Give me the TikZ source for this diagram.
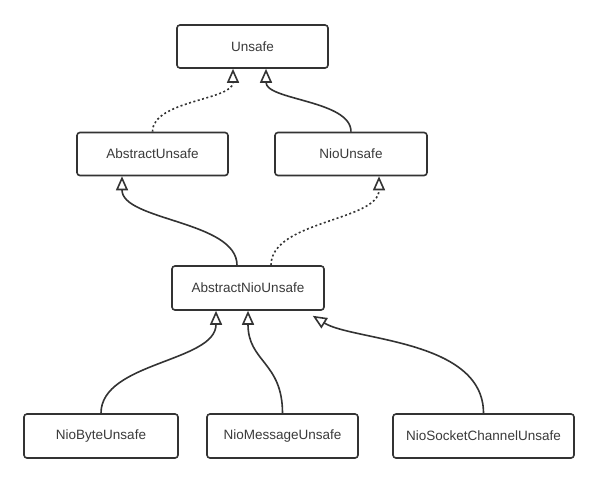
\documentclass[tikz,border=0pt]{standalone}
\usepackage{fontspec}
\setmainfont{Liberation Sans}
\usetikzlibrary{arrows.meta,calc}
\definecolor{ink}{HTML}{333333}
\definecolor{txt}{HTML}{3A3A3A}
\begin{document}
\begin{tikzpicture}[x=1pt,y=-1pt,
  box/.style={draw=ink, line width=1.6pt, rounded corners=3pt, minimum height=43pt,
    inner sep=0pt, text=txt, font=\fontsize{13.5}{16}\selectfont},
  inh/.style={draw=ink, line width=1.6pt, -{Triangle[open,length=14pt,width=12pt]}},
  realiz/.style={inh, dash pattern=on 2pt off 2.5pt}]
\useasboundingbox (0,0) rectangle (599,483);
\fill[white] (0,0) rectangle (599,483);

% boxes
\node[box, minimum width=151pt] (unsafe) at (252.5,46.5) {Unsafe};
\node[box, minimum width=151pt] (absu) at (152.5,154) {AbstractUnsafe};
\node[box, minimum width=152pt] (niou) at (351,154) {NioUnsafe};
\node[box, minimum width=152pt, minimum height=44pt] (absnio) at (248,288) {AbstractNioUnsafe};
\node[box, minimum width=154pt, minimum height=44pt] (byte) at (101,436) {NioByteUnsafe};
\node[box, minimum width=151pt, minimum height=44pt] (msg) at (282.5,436) {NioMessageUnsafe};
\node[box, minimum width=181pt, minimum height=44pt] (sock) at (483.5,436) {NioSocketChannelUnsafe};

% end points
\coordinate (t1) at ([xshift=-19.5pt]unsafe.south);
\coordinate (t2) at ([xshift=13.5pt]unsafe.south);
\coordinate (t3) at ([xshift=-30.5pt]absu.south);
\coordinate (t4) at ([xshift=28pt]niou.south);
\coordinate (t5) at ([xshift=-32pt]absnio.south);
\coordinate (t6) at (absnio.south);
\coordinate (t7) at ([xshift=-12pt,yshift=-5pt]absnio.south east);
\coordinate (s1) at (absu.north);
\coordinate (s2) at (niou.north);
\coordinate (s3) at ([xshift=-11pt]absnio.north);
\coordinate (s4) at ([xshift=23pt]absnio.north);
\coordinate (s5) at (byte.north);
\coordinate (s6) at (msg.north);
\coordinate (s7) at (sock.north);

\foreach \i in {1,...,6}{\coordinate (m\i) at ($(s\i)!0.5!(t\i)$);}

% connectors
\draw[realiz] (s1) .. controls (s1 |- m1) and (t1 |- m1) .. (t1);
\draw[inh] (s2) .. controls (s2 |- m2) and (t2 |- m2) .. (t2);
\draw[inh] (s3) .. controls (s3 |- m3) and (t3 |- m3) .. (t3);
\draw[realiz] (s4) .. controls (s4 |- m4) and (t4 |- m4) .. (t4);
\draw[inh] (s5) .. controls (s5 |- m5) and (t5 |- m5) .. (t5);
\draw[inh] (s6) .. controls (s6 |- m6) and (t6 |- m6) .. (t6);
\draw[inh] (s7) .. controls ($(s7)+(0,-74)$) and ($(t7)+(40,25)$) .. (t7);
\end{tikzpicture}
\end{document}
